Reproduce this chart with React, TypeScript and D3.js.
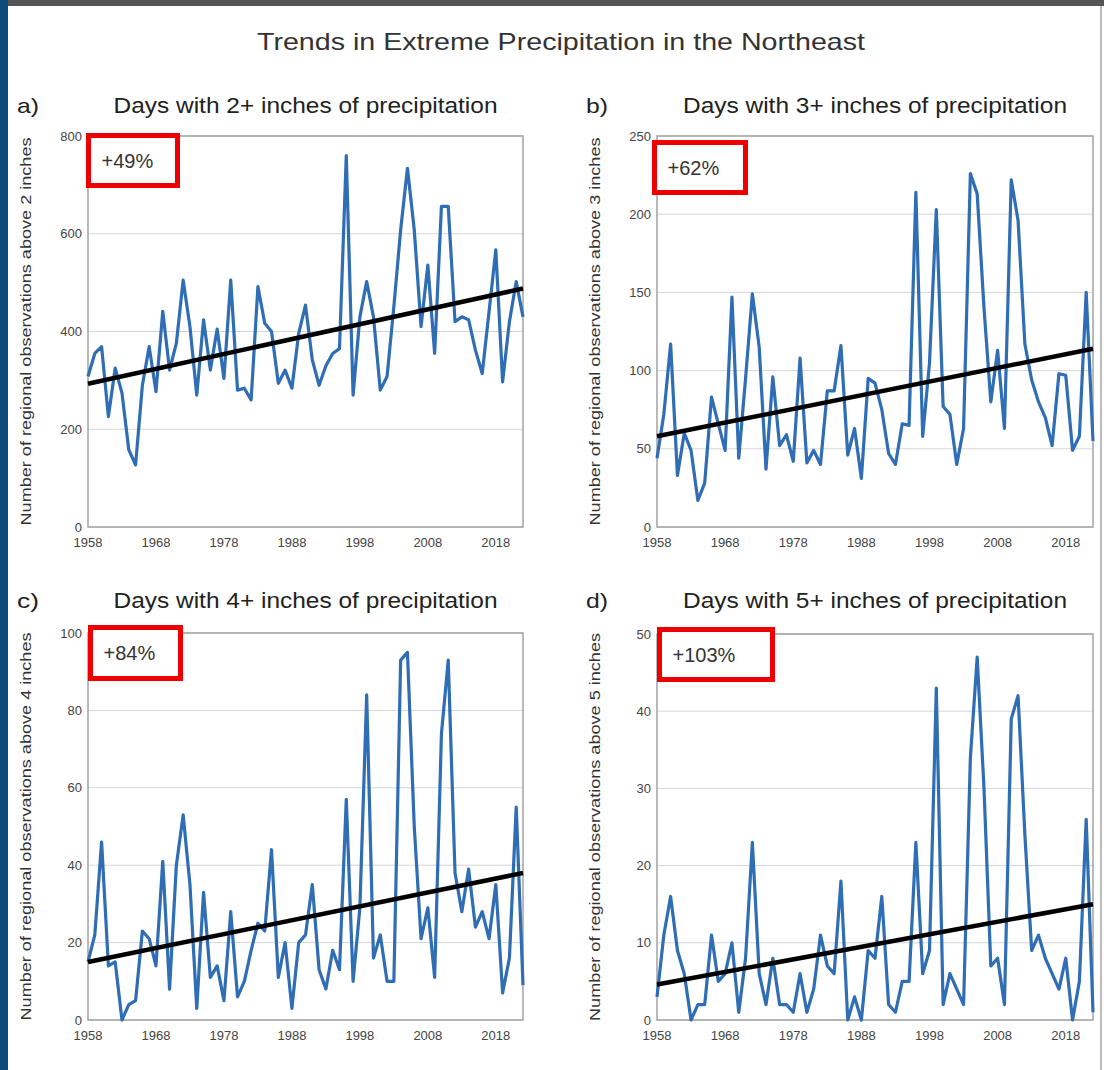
import React from 'react';
import * as d3 from 'd3';

// chart data (1958-2022)
const startYear = 1958;
const endYear = 2022;
const years = d3.range(startYear, endYear + 1);
const xTickYears = [1958, 1968, 1978, 1988, 1998, 2008, 2018];

const daysOver2 = [
  308, 355, 369, 226, 325, 274, 158, 127, 290, 369,
  277, 441, 321, 376, 505, 410, 270, 424, 321, 405,
  304, 505, 280, 284, 260, 492, 417, 400, 294, 321,
  284, 396, 454, 342, 290, 330, 355, 365, 760, 270,
  430, 502, 430, 280, 308, 451, 608, 734, 608, 410,
  536, 355, 656, 656, 420, 430, 424, 362, 314, 440,
  567, 297, 420, 502, 430,
];
const daysOver3 = [
  44, 72, 117, 33, 60, 49, 17, 28, 83, 66,
  49, 147, 44, 95, 149, 115, 37, 96, 52, 59,
  42, 108, 41, 49, 40, 87, 87, 116, 46, 63,
  31, 95, 92, 75, 47, 40, 66, 65, 214, 58,
  105, 203, 77, 72, 40, 63, 226, 213, 140, 80,
  113, 63, 222, 196, 117, 94, 80, 70, 52, 98,
  97, 49, 58, 150, 55,
];
const daysOver4 = [
  15, 22, 46, 14, 15, 0, 4, 5, 23, 21,
  14, 41, 8, 40, 53, 35, 3, 33, 11, 14,
  5, 28, 6, 10, 18, 25, 23, 44, 11, 20,
  3, 20, 22, 35, 13, 8, 18, 13, 57, 10,
  29, 84, 16, 22, 10, 10, 93, 95, 50, 21,
  29, 11, 74, 93, 38, 28, 39, 24, 28, 21,
  35, 7, 16, 55, 9,
];
const daysOver5 = [
  3, 11, 16, 9, 6, 0, 2, 2, 11, 5,
  6, 10, 1, 8, 23, 6, 2, 8, 2, 2,
  1, 6, 1, 4, 11, 7, 6, 18, 0, 3,
  0, 9, 8, 16, 2, 1, 5, 5, 23, 6,
  9, 43, 2, 6, 4, 2, 34, 47, 30, 7,
  8, 2, 39, 42, 24, 9, 11, 8, 6, 4,
  8, 0, 5, 26, 1,
];

// trend line values at 1958 and 2022
const trend2 = [293, 488];
const trend3 = [58, 114];
const trend4 = [15, 38];
const trend5 = [4.6, 15];

const yTicks2 = [0, 200, 400, 600, 800];
const yTicks3 = [0, 50, 100, 150, 200, 250];
const yTicks4 = [0, 20, 40, 60, 80, 100];
const yTicks5 = [0, 10, 20, 30, 40, 50];

const letters = ['a)', 'b)', 'c)', 'd)'];
const titles = [
  'Days with 2+ inches of precipitation',
  'Days with 3+ inches of precipitation',
  'Days with 4+ inches of precipitation',
  'Days with 5+ inches of precipitation',
];
const yLabels = [
  'Number of regional observations above 2 inches',
  'Number of regional observations above 3 inches',
  'Number of regional observations above 4 inches',
  'Number of regional observations above 5 inches',
];
const changeLabels = ['+49%', '+62%', '+84%', '+103%'];

const FONT = "'Liberation Sans', Arial, sans-serif";
const BLUE = '#2f6db5';

const panels = [
  { values: daysOver2, trend: trend2, ticks: yTicks2, left: 88, right: 523, top: 136, bottom: 527, titleY: 113, box: { x: 88.5, y: 135.5, w: 89, h: 50 } },
  { values: daysOver3, trend: trend3, ticks: yTicks3, left: 657, right: 1093, top: 136, bottom: 527, titleY: 113, box: { x: 654.5, y: 142.5, w: 91, h: 50 } },
  { values: daysOver4, trend: trend4, ticks: yTicks4, left: 88, right: 523, top: 633, bottom: 1020, titleY: 608, box: { x: 90.5, y: 627.5, w: 90, h: 51 } },
  { values: daysOver5, trend: trend5, ticks: yTicks5, left: 657, right: 1093, top: 634, bottom: 1020, titleY: 608, box: { x: 659.5, y: 629.5, w: 113, h: 50 } },
];

function Panel({ p, i }: { p: typeof panels[number]; i: number }) {
  const x = d3.scaleLinear().domain([startYear, endYear]).range([p.left, p.right]);
  const yMax = p.ticks[p.ticks.length - 1];
  const y = d3.scaleLinear().domain([0, yMax]).range([p.bottom, p.top]);

  const line = d3.line<number>()
    .x((d, k) => x(years[k]))
    .y(d => y(d));

  const trendLine = d3.line<number>()
    .x((d, k) => x(k === 0 ? startYear : endYear))
    .y(d => y(d));

  const midX = (p.left + p.right) / 2;
  const midY = (p.top + p.bottom) / 2;
  const labelX = p.left - 57;

  return (
    <g>
      <text x={p.left - 71} y={p.titleY} fontSize={21} fill="#222" fontFamily={FONT}
        textLength={22} lengthAdjust="spacingAndGlyphs">{letters[i]}</text>
      <text x={midX} y={p.titleY} fontSize={21.5} fill="#222" fontFamily={FONT}
        textAnchor="middle" textLength={384} lengthAdjust="spacingAndGlyphs">{titles[i]}</text>

      {/* grid */}
      {p.ticks.map(t => (
        <line key={t} x1={p.left} x2={p.right} y1={y(t)} y2={y(t)} stroke="#d6d6d6" strokeWidth={1} />
      ))}
      <rect x={p.left} y={p.top} width={p.right - p.left} height={p.bottom - p.top}
        fill="none" stroke="#a3a3a3" strokeWidth={1.5} />

      {/* y ticks */}
      {p.ticks.map(t => (
        <text key={t} x={p.left - 6} y={y(t)} dy="0.35em" textAnchor="end" fontSize={13}
          fill="#444" fontFamily={FONT}>{t}</text>
      ))}
      {/* x ticks */}
      {xTickYears.map(t => (
        <text key={t} x={x(t)} y={p.bottom + 20} textAnchor="middle" fontSize={13}
          fill="#444" fontFamily={FONT}>{t}</text>
      ))}

      <text transform={`translate(${labelX},${midY}) rotate(-90)`} textAnchor="middle"
        fontSize={14} fill="#333" fontFamily={FONT} textLength={388}
        lengthAdjust="spacingAndGlyphs">{yLabels[i]}</text>

      <path d={line(p.values) || ''} fill="none" stroke={BLUE} strokeWidth={3.2} strokeLinejoin="round" />
      <path d={trendLine(p.trend) || ''} fill="none" stroke="#000" strokeWidth={4.5} />

      <rect x={p.box.x} y={p.box.y} width={p.box.w} height={p.box.h} fill="#fff"
        stroke="#ee0000" strokeWidth={5} />
      <text x={p.box.x + 13} y={p.box.y + p.box.h / 2 + 7} fontSize={20} fill="#333"
        fontFamily={FONT}>{changeLabels[i]}</text>
    </g>
  );
}

export default function App() {
  return (
    <div style={{ position: 'absolute', left: 0, top: 0 }}>
      <svg width={1104} height={1070} style={{ display: 'block', background: '#fff' }}>
        <rect x={0} y={0} width={1104} height={6} fill="#555" />
        <rect x={0} y={0} width={8} height={1070} fill="#0e4b7a" />
        <line x1={1101} x2={1101} y1={6} y2={1070} stroke="#bbb" strokeWidth={2} />
        <text x={561} y={50} textAnchor="middle" fontSize={24} fill="#333" fontFamily={FONT}
          textLength={608} lengthAdjust="spacingAndGlyphs">
          Trends in Extreme Precipitation in the Northeast
        </text>
        {panels.map((p, i) => <Panel key={i} p={p} i={i} />)}
      </svg>
    </div>
  );
}
